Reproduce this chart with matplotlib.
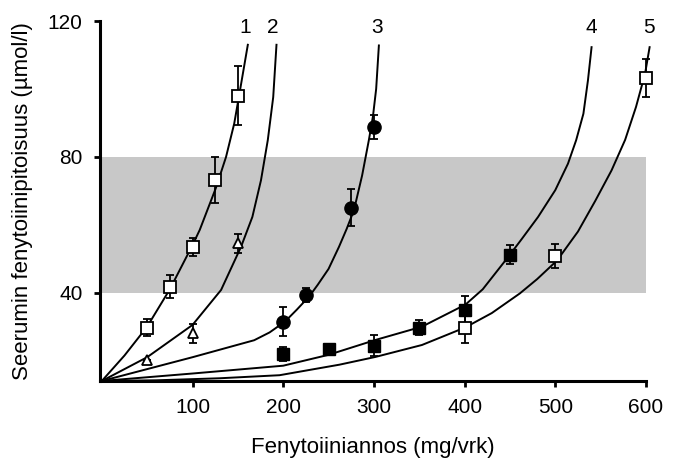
import matplotlib
matplotlib.use("Agg")
import matplotlib.pyplot as plt

plt.rcParams['font.family'] = ['Liberation Sans', 'DejaVu Sans']

# Terapeuttinen alue
alue_ala, alue_yla = 40, 80

# Sovitetut kayrat 1-5 (luettu kuvasta)
k1_x = [0, 25, 50, 75, 100, 108, 126, 137, 146, 152, 161]
k1_y = [14, 21.5, 30, 41, 54, 58.5, 71, 80, 89.8, 99, 113]
k2_x = [0, 50, 100, 131.5, 153.5, 166, 175.5, 183, 189, 192.6]
k2_y = [14, 21, 30.5, 40.8, 53.5, 62.3, 73.1, 84.9, 97.6, 113]
k3_x = [0, 100, 168, 185, 202, 215, 229, 238, 250, 261.5, 270, 278, 287, 294.5, 299, 302.5, 305.5]
k3_y = [14, 21, 26, 28.3, 31.5, 35, 39, 42.3, 47, 53.5, 58.8, 64.3, 74.5, 85, 92, 100, 112.8]
k4_x = [0, 100, 200, 250, 302, 353, 401, 420, 448, 463, 481, 500, 514, 523, 531, 536, 540]
k4_y = [14, 16.2, 18.5, 21.7, 26.1, 30, 36.5, 41, 50.5, 55.8, 62.3, 70.2, 78, 84.9, 92.7, 102.5, 112.3]
k5_x = [0, 60, 130, 196, 230, 262, 302, 353, 401, 430, 461, 480, 502, 525, 544, 562, 577, 589, 599, 604]
k5_y = [14, 14.2, 14.8, 15.7, 17.3, 18.8, 21.1, 24.6, 29.8, 34, 39.8, 44, 49.5, 58, 67, 76, 85, 94.7, 104.5, 112.3]

# Mittauspisteet (keskiarvo +- virhe)
p1_x = [50, 75, 100, 125, 150]
p1_y = [29.7, 41.7, 53.5, 73.2, 98]
p1_e = [2.5, 3.4, 2.6, 6.8, 8.7]
p2_x = [50, 100, 150]
p2_y = [20.2, 28, 54.5]
p2_e = [0, 2.8, 2.7]
p3_x = [200, 225, 275, 300]
p3_y = [31.5, 39.4, 65, 88.8]
p3_e = [4.3, 2, 5.5, 3.5]
p4_x = [200, 250, 300, 350, 400, 450]
p4_y = [22, 23.5, 24.4, 29.7, 35, 51.2]
p4_e = [2, 0, 3, 2.2, 4, 2.8]
p5_x = [400, 500, 600]
p5_y = [29.7, 50.9, 103.2]
p5_e = [4.5, 3.5, 5.7]

fig = plt.figure(figsize=(6.83, 4.70), dpi=100)
ax = fig.add_axes([0.1464, 0.1894, 0.7994, 0.7659])

ax.axhspan(alue_ala, alue_yla, xmin=0, xmax=1, color='#c8c8c8', lw=0, zorder=0)

for kx, ky in [(k1_x, k1_y), (k2_x, k2_y), (k3_x, k3_y), (k4_x, k4_y), (k5_x, k5_y)]:
    ax.plot(kx, ky, color='black', lw=1.4, clip_on=False, zorder=2,
            solid_joinstyle='round')

eb = dict(fmt='none', ecolor='black', elinewidth=1.3, capsize=3, capthick=1.3, zorder=3)
for px, py, pe in [(p1_x, p1_y, p1_e), (p2_x, p2_y, p2_e), (p3_x, p3_y, p3_e),
                   (p4_x, p4_y, p4_e), (p5_x, p5_y, p5_e)]:
    ax.errorbar(px, py, yerr=pe, clip_on=False, **eb)

ax.plot(p1_x, p1_y, 's', ms=8, mfc='white', mec='black', mew=1.3, zorder=4)
ax.plot(p2_x, p2_y, '^', ms=7.5, mfc='white', mec='black', mew=1.3, zorder=4)
ax.plot(p3_x, p3_y, 'o', ms=9.5, color='black', zorder=4, clip_on=False)
ax.plot(p4_x, p4_y, 's', ms=8, color='black', zorder=4)
ax.plot(p5_x, p5_y, 's', ms=8, mfc='white', mec='black', mew=1.3, zorder=4, clip_on=False)

# kayrien numerot
for nimi, nx in [('1', 158), ('2', 189), ('3', 303), ('4', 539.5), ('5', 603)]:
    ax.text(nx, 118, nimi, ha='center', va='center', fontsize=15)

ax.set_xlim(-2, 600)
ax.set_ylim(14, 120)
ax.set_xticks([100, 200, 300, 400, 500, 600])
ax.set_yticks([40, 80, 120])
ax.tick_params(axis='both', labelsize=15, width=2, length=4.5, direction='out')
ax.tick_params(axis='x', pad=8)
ax.tick_params(axis='y', pad=8)

for s in ['top', 'right']:
    ax.spines[s].set_visible(False)
for s in ['left', 'bottom']:
    ax.spines[s].set_linewidth(2.2)

ax.set_xlabel('Fenytoiiniannos (mg/vrk)', fontsize=16)
ax.set_ylabel('Seerumin fenytoiinipitoisuus (µmol/l)', fontsize=16)
ax.xaxis.set_label_coords(0.5, -0.155)
ax.yaxis.set_label_coords(-0.123, 0.5)

fig.savefig('out.png', dpi=100)
